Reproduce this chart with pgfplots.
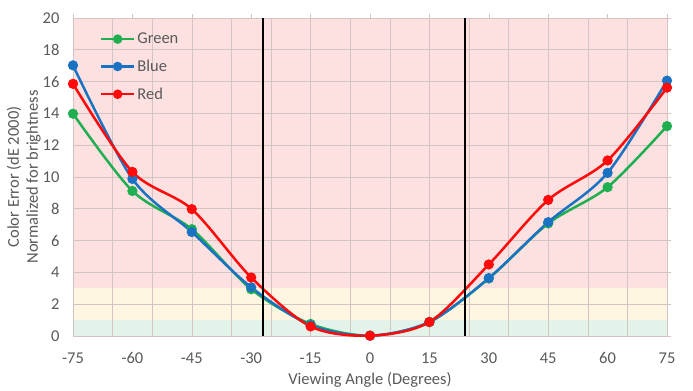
\documentclass[border=0pt]{standalone}
\usepackage{fontspec}
\setmainfont{Carlito}
\usepackage{pgfplots}
\pgfplotsset{compat=1.18}
\definecolor{txt}{HTML}{595959}
\definecolor{gridc}{HTML}{D3C3C3}
\definecolor{bandred}{HTML}{FDE1E1}
\definecolor{bandyel}{HTML}{FFF6E2}
\definecolor{bandgrn}{HTML}{E3F3EA}
\definecolor{cgreen}{HTML}{1FAF50}
\definecolor{cblue}{HTML}{1A72C2}
\definecolor{cred}{HTML}{FF0A0A}
\begin{document}
\begin{tikzpicture}[font=\fontsize{16.5}{19}\selectfont]
\begin{axis}[
  at={(0,0)}, anchor=south west,
  scale only axis, width=594pt, height=318pt,
  xmin=-75, xmax=75, ymin=0, ymax=20,
  xtick={-75,-60,...,75}, ytick={0,2,...,20},
  /pgf/number format/assume math mode=true,
  xtick pos=right, xticklabel pos=left,
  ytick pos=right, yticklabel pos=left,
  tick align=outside, major tick length=4pt,
  tick style={gridc, line width=0.6pt},
  ymajorgrids=true,
  extra x ticks={-65,-55,...,65},
  extra x tick labels={},
  extra x tick style={grid=major, major tick length=0pt},
  grid style={gridc, line width=0.6pt},
  axis line style={gridc, line width=0.6pt},
  ticklabel style={txt},
  xticklabel style={yshift=-9pt},
  yticklabel style={xshift=-6pt},
  xlabel={Viewing Angle (Degrees)},
  ylabel={Color Error (dE 2000)\\Normalized for brightness},
  xlabel style={txt, at={(axis description cs:0.5,-0.138)}, anchor=center},
  ylabel style={txt, align=center, at={(axis description cs:-0.083,0.5)}, anchor=center, rotate=0},
  set layers,
  legend style={at={(0.04,0.966)}, anchor=north west, draw=none, fill=none,
    font=\fontsize{16.5}{19}\selectfont\color{txt}, row sep=10.8pt},
  legend cell align=left,
  legend image code/.code={\draw[mark repeat=2,mark phase=2, line width=2.4pt, mark size=3.5pt] plot coordinates {(0pt,0pt)(16.5pt,0pt)(33pt,0pt)};},
]
\begin{pgfonlayer}{axis background}
\fill[bandgrn] (axis cs:-75,0) rectangle (axis cs:75,1);
\fill[bandyel] (axis cs:-75,1) rectangle (axis cs:75,3);
\fill[bandred] (axis cs:-75,3) rectangle (axis cs:75,20);
\end{pgfonlayer}
\addplot[cgreen, line width=2.5pt, smooth, tension=0.5, mark=*, mark size=3.8pt, mark options={solid}]
 coordinates {(-75,13.98) (-60,9.12) (-45,6.72) (-30,2.94) (-15,0.76) (0,0.02) (15,0.88) (30,3.62) (45,7.08) (60,9.36) (75,13.2)};
\addlegendentry{Green}
\addplot[cblue, line width=2.5pt, smooth, tension=0.5, mark=*, mark size=3.8pt]
 coordinates {(-75,17.02) (-60,9.88) (-45,6.54) (-30,3.06) (-15,0.68) (0,0.02) (15,0.88) (30,3.64) (45,7.16) (60,10.26) (75,16.06)};
\addlegendentry{Blue}
\addplot[cred, line width=2.5pt, smooth, tension=0.5, mark=*, mark size=3.8pt]
 coordinates {(-75,15.86) (-60,10.32) (-45,7.98) (-30,3.68) (-15,0.6) (0,0.02) (15,0.88) (30,4.5) (45,8.56) (60,11.04) (75,15.62)};
\addlegendentry{Red}
\addplot[black, line width=2.8pt, forget plot] coordinates {(-27,0) (-27,20)};
\addplot[black, line width=2.8pt, forget plot] coordinates {(24,0) (24,20)};
\end{axis}
\path (-73pt,-54pt) rectangle (620pt,336pt);
\end{tikzpicture}
\end{document}
